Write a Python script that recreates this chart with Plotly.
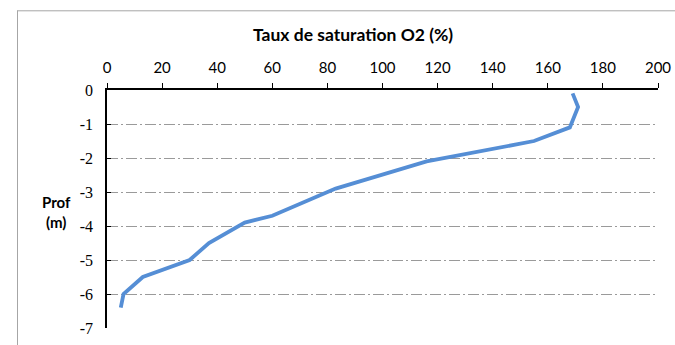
import plotly.graph_objects as go

# Data
saturation = [169, 171, 168, 155, 116, 83, 60, 50, 37, 30, 13, 6, 5]
depth = [-0.1, -0.5, -1.1, -1.5, -2.1, -2.9, -3.7, -3.9, -4.5, -5.0, -5.5, -6.0, -6.4]
x_ticks = [0, 20, 40, 60, 80, 100, 120, 140, 160, 180, 200]
y_ticks = [0, -1, -2, -3, -4, -5, -6, -7]
y_tick_labels = ["0", "-1", "-2", "-3", "-4", "-5", "-6", "-7"]

# the page is rendered a little larger than the photographed picture,
# so lay the figure out in slightly enlarged pixels
K = 683 / 675
W0, H0 = 675, 345
L0, R0, T0, B0 = 106, 18, 89, 17

W, H = round(W0 * K), round(H0 * K)
L, R, T, B = L0 * K, R0 * K, T0 * K, B0 * K
pw = W - L - R
ph = H - T - B

def px_x(p):
    return (p * K - L) / pw

def px_y(p):
    return (H - B - p * K) / ph

fig = go.Figure()
fig.add_trace(go.Scatter(
    x=saturation, y=depth, mode="lines",
    line=dict(color="#558ED5", width=3.8),
    showlegend=False, hoverinfo="skip",
))

frame = dict(color="#a6a6a6", width=1)
fig.update_layout(
    width=W, height=H,
    margin=dict(l=round(L), r=round(R), t=round(T), b=round(B)),
    paper_bgcolor="white", plot_bgcolor="white",
    xaxis=dict(
        side="top", range=[0, 200], tickvals=x_ticks,
        showline=True, linecolor="black", linewidth=1.5,
        ticks="outside", ticklen=5, tickcolor="black", tickwidth=1,
        showgrid=False, zeroline=False,
        tickfont=dict(family="Lato", size=15, color="black"),
        ticklabelstandoff=4,
    ),
    yaxis=dict(
        range=[-7, 0], tickvals=y_ticks, ticktext=y_tick_labels,
        showline=True, linecolor="black", linewidth=1.5,
        ticks="inside", ticklen=4, tickcolor="black", tickwidth=1,
        showgrid=True, gridcolor="#9a9a9a", gridwidth=1,
        griddash="11px,3px,2px,3px",
        zeroline=False,
        tickfont=dict(family="Liberation Serif", size=16, color="black"),
        ticklabelstandoff=9,
    ),
    shapes=[
        dict(type="line", xref="paper", yref="paper",
             x0=px_x(16.5), x1=px_x(16.5), y0=px_y(H0 + 5), y1=px_y(9),
             line=frame, layer="below"),
        dict(type="line", xref="paper", yref="paper",
             x0=px_x(16.5), x1=px_x(W0 + 5), y0=px_y(9.5), y1=px_y(9.5),
             line=frame, layer="below"),
    ],
    annotations=[
        dict(text="<b>Taux de saturation O2 (%)</b>", xref="paper", yref="paper",
             x=px_x(352), y=px_y(33), xanchor="center", yanchor="middle",
             showarrow=False, font=dict(family="Lato", size=17.5, color="black")),
        dict(text="<b>Prof<br>(m)</b>", xref="paper", yref="paper",
             x=px_x(55), y=px_y(211), xanchor="center", yanchor="middle",
             showarrow=False, font=dict(family="Lato", size=15, color="black")),
    ],
)

fig.write_html(
    "out.html",
    config={"displayModeBar": False},
    post_script="document.body.style.margin='0';",
)
